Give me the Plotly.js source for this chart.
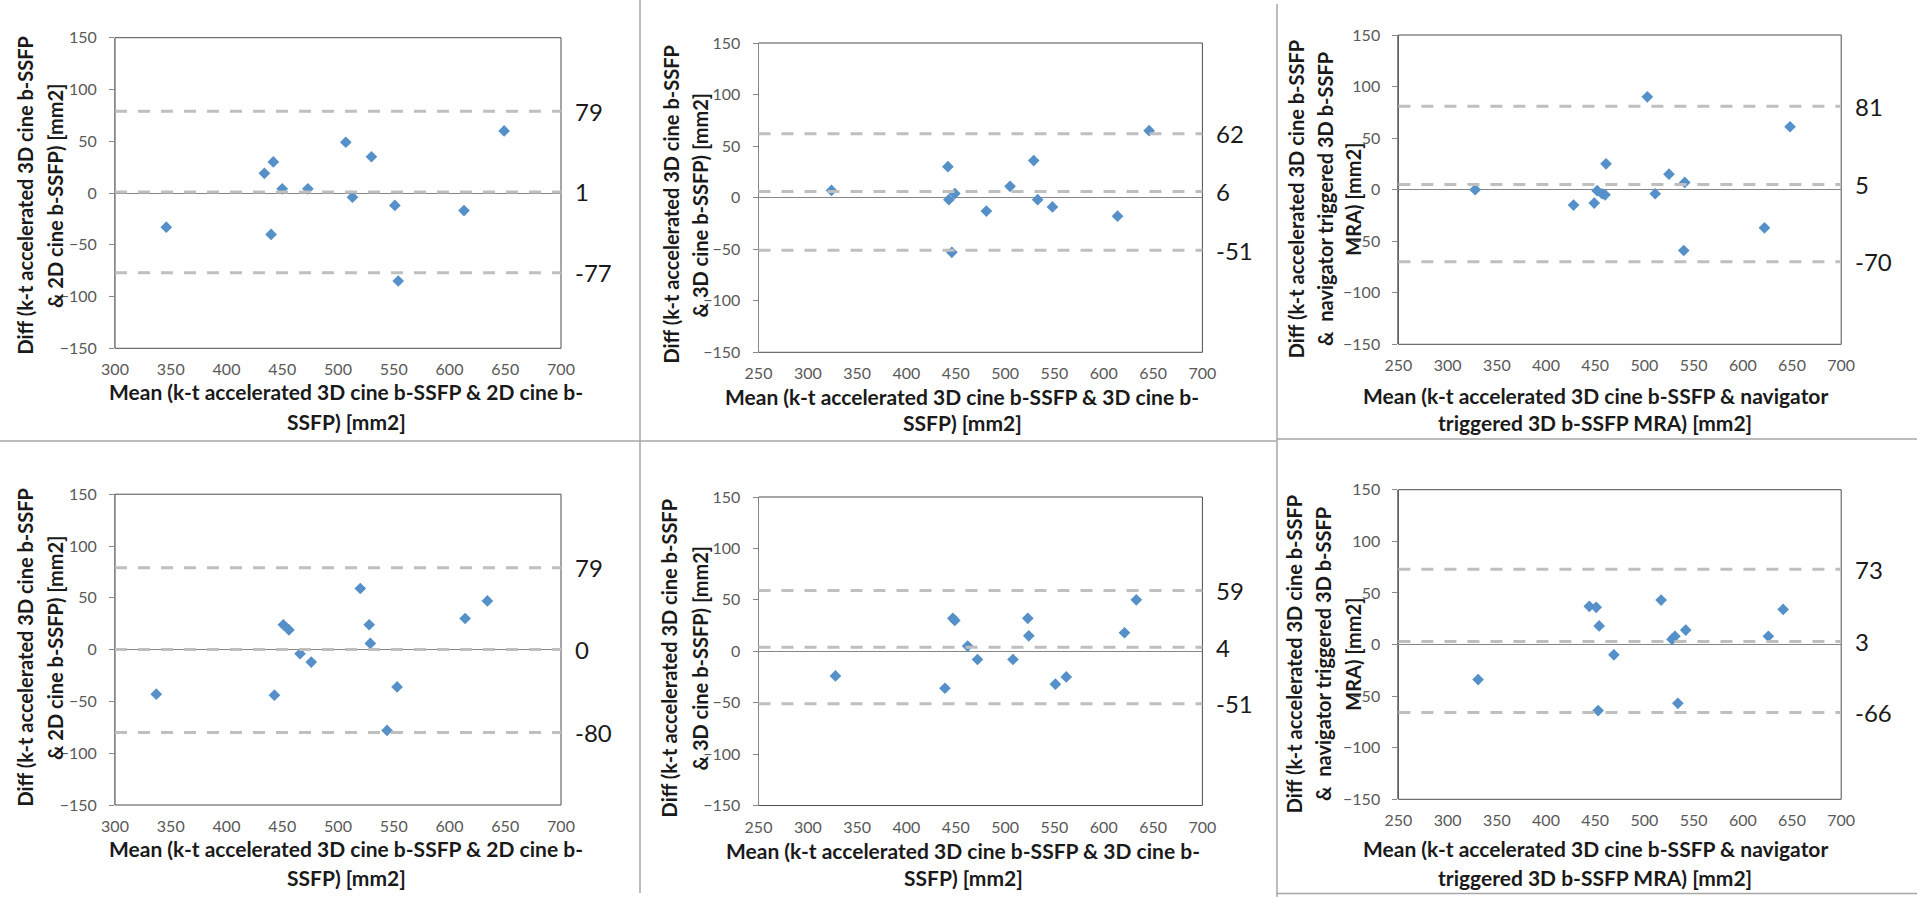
<!DOCTYPE html>
<html>
<head>
<meta charset="utf-8">
<script src="https://cdn.plot.ly/plotly-3.0.1.min.js"></script>
<style>html,body{margin:0;padding:0;background:#fff;}#chart{width:1920px;height:897px;}</style>
</head>
<body>
<div id="chart"></div>
<script>
// ---------- DATA ----------
// Panel 1: k-t 3D cine vs 2D cine (top-left)
const p1Mean = [346, 434, 442, 450, 473, 440, 507, 513, 530, 551, 554, 613, 649];
const p1Diff = [-33, 19, 30, 4, 4, -40, 49, -4, 35, -12, -85, -17, 60];
const p1Limits = [79, 1, -77];
// Panel 2: k-t 3D cine vs 3D cine (top-middle)
const p2Mean = [324, 442, 443, 449, 446, 481, 505, 529, 533, 548, 614, 646];
const p2Diff = [7, 30, -2, 4, -53, -13, 11, 36, -2, -9, -18, 65];
const p2Limits = [62, 6, -51];
// Panel 3: k-t 3D cine vs navigator triggered 3D MRA (top-right)
const p3Mean = [328, 428, 449, 452, 457, 460, 461, 503, 511, 525, 541, 540, 622, 648];
const p3Diff = [0, -15, -13, -1, -4, -5, 25, 90, -4, 15, 7, -59, -37, 61];
const p3Limits = [81, 5, -70];
// Panel 4: k-t 3D cine vs 2D cine (bottom-left)
const p4Mean = [337, 443, 451, 456, 466, 476, 520, 528, 529, 544, 553, 614, 634];
const p4Diff = [-43, -44, 24, 19, -4, -12, 59, 24, 6, -78, -36, 30, 47];
const p4Limits = [79, 0, -80];
// Panel 5: k-t 3D cine vs 3D cine (bottom-middle)
const p5Mean = [328, 439, 447, 449, 462, 472, 508, 523, 524, 551, 562, 621, 633];
const p5Diff = [-24, -36, 32, 30, 5, -8, -8, 32, 15, -32, -25, 18, 50];
const p5Limits = [59, 4, -51];
// Panel 6: k-t 3D cine vs navigator triggered 3D MRA (bottom-right)
const p6Mean = [331, 444, 451, 454, 453, 469, 517, 528, 531, 534, 542, 626, 641];
const p6Diff = [-34, 37, 36, 18, -64, -10, 43, 5, 8, -57, 14, 8, 34];
const p6Limits = [73, 3, -66];

const xTicksA = [300, 350, 400, 450, 500, 550, 600, 650, 700];
const xTicksB = [250, 300, 350, 400, 450, 500, 550, 600, 650, 700];
const yTicks = [-150, -100, -50, 0, 50, 100, 150];

const xTitle2D = ["Mean (k-t accelerated 3D cine b-SSFP &amp; 2D cine b-", "SSFP) [mm2]"];
const yTitle2D = ["Diff (k-t accelerated 3D cine b-SSFP", "&amp; 2D cine b-SSFP) [mm2]"];
const xTitle3D = ["Mean (k-t accelerated 3D cine b-SSFP &amp; 3D cine b-", "SSFP) [mm2]"];
const yTitle3D = ["Diff (k-t accelerated 3D cine b-SSFP", "&amp; 3D cine b-SSFP) [mm2]"];
const xTitleNav = ["Mean (k-t accelerated 3D cine b-SSFP &amp; navigator", "triggered 3D b-SSFP MRA) [mm2]"];
const yTitleNav = ["Diff (k-t accelerated 3D cine b-SSFP", "&amp;  navigator triggered 3D b-SSFP", "MRA) [mm2]"];

// ---------- LAYOUT GEOMETRY (pixels) ----------
const W = 1920, H = 897;
const panels = [
  {mean:p1Mean, diff:p1Diff, lim:p1Limits, xt:xTicksA, dom:[115,561,37.7,348.3],
   xT:xTitle2D, xTpos:[[346,391.7],[346,421.7]], yT:yTitle2D, yTpos:[[24.5,196],[55,196]]},
  {mean:p2Mean, diff:p2Diff, lim:p2Limits, xt:xTicksB, dom:[758.5,1202.4,43,352.3],
   xT:xTitle3D, xTpos:[[962,396.7],[962,422.7]], yT:yTitle3D, yTpos:[[670.6,205],[700.4,205]]},
  {mean:p3Mean, diff:p3Diff, lim:p3Limits, xt:xTicksB, dom:[1398.4,1841.2,35,344.3],
   xT:xTitleNav, xTpos:[[1595,395],[1595,422.7]], yT:yTitleNav, yTpos:[[1296.3,199],[1325,199],[1352.7,199]]},
  {mean:p4Mean, diff:p4Diff, lim:p4Limits, xt:xTicksA, dom:[115,561,494.2,805],
   xT:xTitle2D, xTpos:[[346,848.7],[346,877]], yT:yTitle2D, yTpos:[[24.5,648],[55,648]]},
  {mean:p5Mean, diff:p5Diff, lim:p5Limits, xt:xTicksB, dom:[758.5,1202.4,497,805.5],
   xT:xTitle3D, xTpos:[[963,850.3],[963,877]], yT:yTitle3D, yTpos:[[669.4,658],[700.4,658]]},
  {mean:p6Mean, diff:p6Diff, lim:p6Limits, xt:xTicksB, dom:[1398.4,1841.2,489.7,799.3],
   xT:xTitleNav, xTpos:[[1595,848.7],[1595,877]], yT:yTitleNav, yTpos:[[1294.3,654],[1322.9,654],[1352.7,654]]}
];

const FONT = "Lato, 'Open Sans', sans-serif";
const px = v => v / W;
const py = v => 1 - v / H;

const data = [];
const layout = {
  width: W, height: H,
  margin: {l:0, r:0, t:0, b:0},
  paper_bgcolor: '#ffffff', plot_bgcolor: '#ffffff',
  showlegend: false,
  font: {family: FONT, color: '#595959'},
  shapes: [], annotations: []
};

panels.forEach((p, i) => {
  const n = i + 1;
  const xa = 'x' + (n === 1 ? '' : n), ya = 'y' + (n === 1 ? '' : n);
  const xk = 'xaxis' + (n === 1 ? '' : n), yk = 'yaxis' + (n === 1 ? '' : n);
  data.push({
    type: 'scatter', mode: 'markers', x: p.mean, y: p.diff, xaxis: xa, yaxis: ya,
    marker: {symbol: 'diamond', size: 9, color: '#5590C9', line: {width: 0}},
    hoverinfo: 'x+y'
  });
  layout[xk] = {
    domain: [px(p.dom[0]), px(p.dom[1])], anchor: ya,
    range: [p.xt[0], p.xt[p.xt.length - 1]], tickvals: p.xt, ticks: '',
    showgrid: false, zeroline: false, showline: false,
    tickfont: {family: FONT, size: 16, color: '#595959'}, ticklabelstandoff: 10
  };
  layout[yk] = {
    domain: [py(p.dom[3]), py(p.dom[2])], anchor: xa,
    range: [-150, 150], tickvals: yTicks, ticks: 'outside', ticklen: 5, tickcolor: '#868686',
    showgrid: false, zeroline: true, zerolinecolor: '#868686', zerolinewidth: 1,
    showline: true, linecolor: '#868686', linewidth: 1,
    tickfont: {family: FONT, size: 16, color: '#595959'}, ticklabelstandoff: 9
  };
  // plot frame
  layout.shapes.push({type: 'rect', xref: xa + ' domain', yref: ya + ' domain', x0: 0, x1: 1, y0: 0, y1: 1,
    line: {color: '#4d4d4d', width: 1}, layer: 'below'});
  // limits of agreement and mean difference
  p.lim.forEach(v => {
    layout.shapes.push({type: 'line', xref: xa + ' domain', yref: ya, x0: 0, x1: 1, y0: v, y1: v,
      line: {color: '#BFBFBF', width: 3, dash: '12px,11px'}, layer: 'above'});
    layout.annotations.push({xref: xa + ' domain', yref: ya, x: 1, y: v, xshift: 12,
      xanchor: 'left', yanchor: 'middle', showarrow: false, text: String(v),
      font: {family: FONT, size: 24, color: '#1a1a1a'}});
  });
  // axis titles (one annotation per printed line)
  p.xT.forEach((t, k) => {
    layout.annotations.push({xref: 'paper', yref: 'paper', x: px(p.xTpos[k][0]), y: py(p.xTpos[k][1]),
      xanchor: 'center', yanchor: 'middle', showarrow: false, text: '<b>' + t + '</b>',
      font: {family: FONT, size: 21, color: '#1a1a1a'}});
  });
  p.yT.forEach((t, k) => {
    layout.annotations.push({xref: 'paper', yref: 'paper', x: px(p.yTpos[k][0]), y: py(p.yTpos[k][1]),
      xanchor: 'center', yanchor: 'middle', showarrow: false, textangle: -90, text: '<b>' + t + '</b>',
      font: {family: FONT, size: 20, color: '#1a1a1a'}});
  });
});

// panel separator lines
const sep = {color: '#A6A6A6', width: 1.5};
[
  [0, 441, 1277, 441],
  [1277, 439, 1917, 439],
  [640, 0, 640, 893],
  [1277, 4, 1277, 897],
  [1277, 893.5, 1917, 893.5]
].forEach(s => layout.shapes.push({type: 'line', xref: 'paper', yref: 'paper',
  x0: px(s[0]), y0: py(s[1]), x1: px(s[2]), y1: py(s[3]), line: sep}));

Plotly.newPlot('chart', data, layout, {staticPlot: true, displayModeBar: false});
</script>
</body>
</html>
